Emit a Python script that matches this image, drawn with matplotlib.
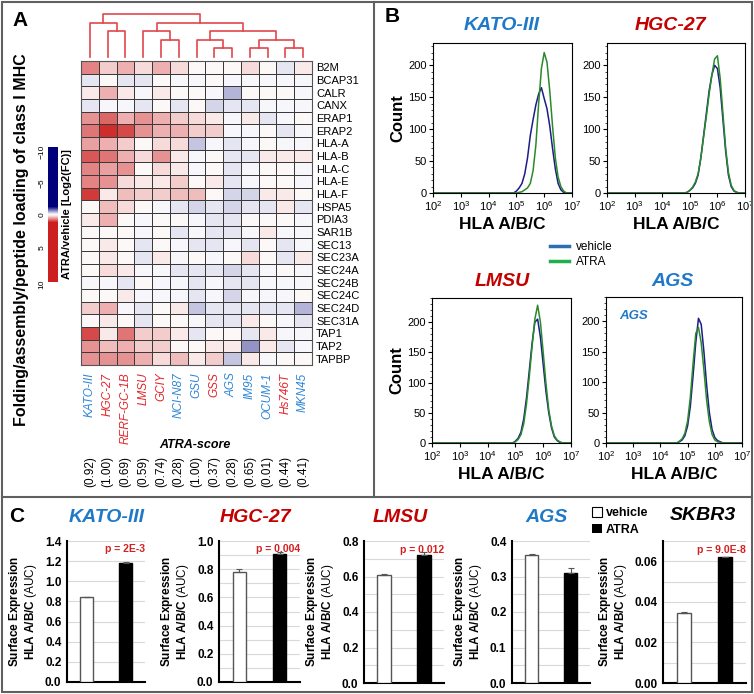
import numpy as np
import matplotlib
matplotlib.use("Agg")
import matplotlib.pyplot as plt
from matplotlib.colors import LinearSegmentedColormap, Normalize
from matplotlib.cm import ScalarMappable
from matplotlib.lines import Line2D
from matplotlib.patches import Patch, Rectangle
from matplotlib.ticker import LogLocator, MultipleLocator, NullFormatter

plt.rcParams['font.family'] = ['Liberation Sans', 'DejaVu Sans']
plt.rcParams['mathtext.fontset'] = 'custom'
plt.rcParams['mathtext.rm'] = 'Liberation Sans'
plt.rcParams['mathtext.bf'] = 'Liberation Sans:bold'
plt.rcParams['mathtext.it'] = 'Liberation Sans:italic'

# ---- panel A data ----
cell_lines = ['KATO-III', 'HGC-27', 'RERF-GC-1B', 'LMSU', 'GCIY', 'NCI-N87', 'GSU',
              'GSS', 'AGS', 'IM95', 'OCUM-1', 'Hs746T', 'MKN45']
line_group = ['b', 'r', 'r', 'r', 'r', 'b', 'b', 'r', 'b', 'b', 'b', 'r', 'b']
atra_scores = ['0.92', '1.00', '0.69', '0.59', '0.74', '0.28', '1.00', '0.37', '0.28',
               '0.65', '0.01', '0.44', '0.41']
genes = ['B2M', 'BCAP31', 'CALR', 'CANX', 'ERAP1', 'ERAP2', 'HLA-A', 'HLA-B', 'HLA-C',
         'HLA-E', 'HLA-F', 'HSPA5', 'PDIA3', 'SAR1B', 'SEC13', 'SEC23A', 'SEC24A',
         'SEC24B', 'SEC24C', 'SEC24D', 'SEC31A', 'TAP1', 'TAP2', 'TAPBP']
fc_values = [
    [0.70, 0.30, 0.45, 0.20, 0.40, 0.20, 0.05, 0.05, 0.00, 0.20, 0.05, -0.08, 0.10],
    [-0.10, 0.00, -0.10, -0.10, 0.03, -0.05, -0.05, 0.00, -0.05, -0.05, -0.05, -0.05, -0.05],
    [0.15, 0.40, 0.15, -0.05, 0.15, 0.05, 0.05, -0.05, -0.35, 0.00, 0.05, 0.05, -0.05],
    [-0.15, -0.05, -0.05, -0.10, 0.00, -0.10, 0.00, -0.20, -0.10, -0.10, -0.05, -0.05, -0.05],
    [0.60, 0.80, 0.40, 0.55, 0.40, 0.25, 0.20, 0.10, -0.05, 0.15, -0.10, -0.05, 0.00],
    [0.75, 1.10, 0.95, 0.60, 0.45, 0.40, 0.30, 0.25, -0.05, -0.05, 0.00, -0.10, -0.05],
    [0.50, 0.40, 0.25, 0.05, 0.20, 0.20, -0.30, -0.05, -0.10, -0.05, 0.00, -0.05, -0.03],
    [0.90, 0.75, 0.45, 0.20, 0.60, 0.15, -0.05, 0.05, -0.10, -0.10, 0.08, 0.15, 0.10],
    [0.70, 0.50, 0.55, 0.00, 0.20, 0.15, -0.05, 0.05, -0.10, -0.05, 0.05, 0.05, -0.05],
    [0.65, 0.55, 0.20, 0.10, 0.10, 0.30, 0.00, 0.10, -0.15, -0.05, 0.05, 0.05, -0.05],
    [1.05, 0.15, 0.35, 0.30, 0.30, 0.35, 0.35, 0.00, -0.20, -0.20, 0.10, 0.15, 0.00],
    [0.00, 0.35, 0.20, 0.00, -0.05, -0.10, -0.20, -0.15, -0.20, -0.10, -0.10, 0.15, -0.10],
    [0.15, 0.40, 0.00, -0.05, 0.05, 0.03, -0.05, -0.10, -0.15, 0.00, 0.03, 0.00, -0.05],
    [0.05, 0.05, 0.00, -0.05, 0.05, -0.15, -0.05, -0.10, -0.10, -0.05, 0.15, -0.05, -0.03],
    [0.00, 0.15, 0.00, -0.10, 0.05, -0.05, -0.10, -0.10, -0.05, -0.10, 0.00, -0.10, -0.05],
    [0.00, 0.15, 0.05, -0.10, 0.10, -0.05, 0.05, -0.05, 0.00, 0.20, 0.05, -0.10, 0.08],
    [0.00, 0.20, 0.15, -0.05, -0.05, -0.10, -0.10, -0.10, -0.20, -0.10, -0.05, 0.03, -0.05],
    [-0.05, -0.05, -0.15, 0.03, -0.03, -0.05, -0.10, -0.05, -0.10, -0.10, -0.05, -0.05, -0.05],
    [0.00, 0.05, 0.10, -0.05, -0.05, -0.05, -0.10, -0.05, -0.20, -0.05, -0.05, -0.05, 0.00],
    [0.25, 0.40, -0.05, -0.10, 0.05, 0.15, -0.25, -0.15, -0.15, -0.10, -0.15, -0.15, -0.35],
    [0.05, 0.10, 0.00, -0.10, 0.00, 0.00, -0.05, -0.10, -0.10, 0.10, 0.00, -0.05, -0.10],
    [0.95, 0.10, 0.75, 0.25, 0.30, 0.15, -0.15, 0.05, 0.00, -0.10, 0.10, -0.05, -0.05],
    [0.60, 0.35, 0.45, 0.25, 0.30, 0.00, 0.00, 0.15, 0.15, -0.50, 0.10, -0.10, -0.05],
    [0.60, 0.55, 0.55, 0.45, 0.20, 0.35, 0.10, 0.25, -0.25, 0.10, -0.05, 0.05, 0.05],
]
# dendrogram merges: (child a, child b, height); new ids start at 13
merges = [(1, 2, 3), (0, 13, 4), (4, 5, 2), (3, 15, 3), (7, 8, 1), (6, 17, 2),
          (9, 10, 1), (11, 12, 1), (19, 20, 2), (18, 21, 3), (16, 22, 4), (14, 23, 5)]

# ---- panel B data (log10 intensity grid, counts) ----
hist_log = [2.0, 4.6, 4.7, 4.8, 4.9, 5.0, 5.1, 5.2, 5.3, 5.4, 5.5, 5.6, 5.7, 5.8, 5.9,
            6.0, 6.1, 6.2, 6.3, 6.4, 6.5, 6.6, 6.7, 6.8, 7.0]
kato_veh = [0, 0, 0, 0, 0, 3, 8, 15, 30, 55, 90, 115, 138, 155, 165, 148, 132, 105, 70, 38, 15, 5, 1, 0, 0]
kato_atra = [0, 0, 0, 0, 0, 0, 1, 2, 5, 8, 15, 35, 75, 140, 195, 220, 205, 160, 105, 55, 25, 10, 3, 0, 0]
hgc_veh = [0, 0, 0, 0, 1, 4, 8, 15, 28, 55, 90, 125, 160, 185, 200, 195, 165, 115, 65, 28, 10, 3, 1, 0, 0]
hgc_atra = [0, 0, 0, 0, 1, 4, 9, 17, 30, 55, 88, 120, 155, 185, 210, 215, 180, 125, 70, 32, 12, 4, 1, 0, 0]
lmsu_veh = [0, 0, 0, 0, 0, 3, 8, 18, 40, 75, 120, 165, 200, 205, 175, 130, 85, 50, 25, 10, 4, 1, 0, 0, 0]
lmsu_atra = [0, 0, 0, 0, 0, 2, 6, 14, 32, 65, 110, 160, 205, 228, 200, 150, 98, 55, 28, 12, 5, 2, 0, 0, 0]
ags_veh = [0, 0, 2, 5, 12, 28, 60, 110, 165, 205, 195, 150, 95, 50, 22, 9, 4, 2, 0, 0, 0, 0, 0, 0, 0]
ags_atra = [0, 0, 3, 7, 16, 36, 75, 130, 180, 190, 165, 120, 70, 35, 14, 5, 2, 1, 0, 0, 0, 0, 0, 0, 0]

# ---- panel C data ----
bar_lines = ['KATO-III', 'HGC-27', 'LMSU', 'AGS', 'SKBR3']
bar_vehicle = [0.84, 0.78, 0.61, 0.36, 0.0345]
bar_atra = [1.18, 0.91, 0.72, 0.31, 0.062]
err_vehicle = [0.008, 0.02, 0.004, 0.004, 0.0003]
err_atra = [0.015, 0.015, 0.02, 0.015, 0.0003]
p_values = ['p = 2E-3', 'p = 0.004', 'p = 0.012', '', 'p = 9.0E-8']

BLUE = '#1f78c8'
RED = '#c40000'
W, H = 754, 694
fig = plt.figure(figsize=(W / 100, H / 100), dpi=100)


def add_ax(l, t, r, b):
    return fig.add_axes([l / W, 1 - b / H, (r - l) / W, (b - t) / H])


def ftext(x, y, s, **kw):
    return fig.text(x / W, 1 - y / H, s, **kw)


# ---------------- panel A ----------------
cmap = LinearSegmentedColormap.from_list(
    'rb', [(0.0, '#00007a'), (0.44, '#00007a'), (0.5, '#ffffff'), (0.56, '#cc2020'), (1.0, '#cc2020')])
norm = Normalize(-10, 10)

ax = add_ax(81, 61, 312, 365)
ax.pcolormesh(np.array(fc_values), cmap=cmap, norm=norm, edgecolors='#3a3a3a', linewidth=0.7)
ax.set_xlim(0, 13)
ax.set_ylim(24, 0)
ax.yaxis.tick_right()
ax.set_yticks(np.arange(24) + 0.5, genes, fontsize=8)
ax.set_xticks([])
ax.tick_params(length=0, pad=3)
for s in ax.spines.values():
    s.set_color('#555555')
for i, name in enumerate(cell_lines):
    c = '#2f86d6' if line_group[i] == 'b' else '#e3262b'
    ax.text(i + 0.5, 24.6, name, rotation=90, ha='center', va='top', color=c,
            style='italic', fontsize=8.5)
    ax.text(i + 0.5, 31.2, '(' + atra_scores[i] + ')', rotation=90, ha='center', va='top',
            fontsize=8.5)
ax.text(6.4, 30.3, 'ATRA-score', ha='center', va='center', fontsize=9,
        fontweight='bold', style='italic')

dax = add_ax(81, 14, 312, 57)
pos = {i: i + 0.5 for i in range(13)}
hgt = {i: 0 for i in range(13)}
for k, (a, b, h) in enumerate(merges):
    dax.plot([pos[a], pos[a], pos[b], pos[b]], [hgt[a], h, h, hgt[b]],
             color='#e0474c', lw=1.2, clip_on=False)
    pos[13 + k] = (pos[a] + pos[b]) / 2
    hgt[13 + k] = h
dax.set_xlim(0, 13)
dax.set_ylim(0, 5)
dax.axis('off')

cax = add_ax(48, 147, 58, 282)
cb = fig.colorbar(ScalarMappable(norm=norm, cmap=cmap), cax=cax)
cax.invert_yaxis()
cb.set_ticks([-10, -5, 0, 5, 10])
cax.yaxis.set_ticks_position('left')
cax.tick_params(labelsize=6, length=0, pad=2, labelrotation=90)
cb.outline.set_visible(False)
cax.yaxis.set_label_position('right')
cax.set_ylabel('ATRA/vehicle [Log2(FC)]', fontsize=8, fontweight='bold', labelpad=3)

ftext(22, 240, 'Folding/assembly/peptide loading of class I MHC', rotation=90,
      ha='center', va='center', fontsize=11.5, fontweight='bold')

# ---------------- panel B ----------------
hist_x = 10.0 ** np.array(hist_log)


def hist_panel(box, veh, atra, ytop, count, title, tcol, tx, ty):
    a = add_ax(*box)
    a.plot(hist_x, veh, color='#1c1c8a', lw=1.1)
    a.plot(hist_x, atra, color='#2a8a2a', lw=1.1)
    a.set_xscale('log')
    a.set_xlim(1e2, 1e7)
    a.set_ylim(0, ytop)
    a.set_xticks([1e2, 1e3, 1e4, 1e5, 1e6, 1e7],
                 ['$10^{%d}$' % e for e in range(2, 8)])
    a.xaxis.set_minor_locator(LogLocator(base=10, subs=np.arange(2, 10)))
    a.xaxis.set_minor_formatter(NullFormatter())
    a.set_yticks([0, 50, 100, 150, 200])
    a.yaxis.set_minor_locator(MultipleLocator(10))
    a.tick_params(labelsize=8, length=3, width=0.8, pad=1.5)
    a.tick_params(which='minor', length=1.5, width=0.5)
    a.set_xlabel('HLA A/B/C', fontsize=12.5, fontweight='bold', labelpad=3)
    if count:
        a.set_ylabel('Count', fontsize=12, fontweight='bold', labelpad=2)
    ftext(tx, ty, title, ha='center', va='center', color=tcol, fontsize=14,
          fontweight='bold', style='italic')
    return a


hist_panel((433, 43, 572, 193), kato_veh, kato_atra, 235, True, 'KATO-III', BLUE, 502, 25)
hist_panel((607, 43, 745, 193), hgc_veh, hgc_atra, 235, False, 'HGC-27', RED, 670, 25)
hist_panel((432, 298, 571, 443), lmsu_veh, lmsu_atra, 240, True, 'LMSU', RED, 502, 282)
ags_ax = hist_panel((606, 297, 742, 443), ags_veh, ags_atra, 240, False, 'AGS', BLUE, 673, 282)
ags_ax.text(0.1, 0.87, 'AGS', transform=ags_ax.transAxes, color=BLUE, fontsize=9.5,
            fontweight='bold', style='italic', va='center')

fig.legend([Line2D([], [], color='#2e6db4', lw=2.5), Line2D([], [], color='#1fb04a', lw=2.5)],
           ['vehicle', 'ATRA'], loc='upper left', bbox_to_anchor=(545 / W, 1 - 236 / H),
           frameon=False, fontsize=8.5, handlelength=1.6, labelspacing=0.3,
           borderaxespad=0, handletextpad=0.6)

# ---------------- panel C ----------------
bar_boxes = [(67, 541, 145, 682), (219, 541, 300, 682), (364, 541, 444, 683),
             (512, 541, 590, 683), (663, 541, 746, 683)]
ylims = [1.4, 1.0, 0.8, 0.4, 0.07]
majors = [0.2, 0.2, 0.2, 0.1, 0.02]
minors = [0.2, 0.1, 0.1, 0.05, 0.01]
fmts = ['%.1f', '%.1f', '%.1f', '%.1f', '%.2f']
title_pos = [(107, 517), (255, 517), (400, 517), (547, 517), (703, 515)]
title_cols = [BLUE, RED, RED, BLUE, 'black']

for i in range(5):
    a = add_ax(*bar_boxes[i])
    a.bar([0, 1], [bar_vehicle[i], bar_atra[i]], width=0.33, color=['white', 'black'],
          edgecolor=['#555555', 'black'], linewidth=1,
          yerr=[[0, 0], [err_vehicle[i], err_atra[i]]],
          error_kw=dict(ecolor='#555555', elinewidth=0.8, capsize=2, capthick=0.8), zorder=3)
    a.set_xlim(-0.5, 1.5)
    a.set_ylim(0, ylims[i])
    ticks = np.arange(0, ylims[i] + 1e-9, majors[i])
    a.set_yticks(ticks, [fmts[i] % t for t in ticks])
    a.yaxis.set_minor_locator(MultipleLocator(minors[i]))
    a.grid(axis='y', which='both', color='#d9d9d9', lw=0.8)
    a.set_axisbelow(True)
    a.set_xticks([])
    a.tick_params(which='both', length=0, labelsize=8.5, pad=4)
    for lab in a.get_yticklabels():
        lab.set_fontweight('bold')
    for s in ['top', 'right']:
        a.spines[s].set_visible(False)
    for s in ['left', 'bottom']:
        a.spines[s].set_linewidth(1.5)
    a.set_ylabel('$\\mathbf{Surface\\ Expression}$\n$\\mathbf{HLA\\ A/B/C}$ (AUC)',
                 fontsize=8.5, labelpad=4, linespacing=1.0)
    if p_values[i]:
        a.text(1.0, 0.94, p_values[i], transform=a.transAxes, ha='right', va='center',
               color='#d42020', fontsize=7.5, fontweight='bold')
    ftext(title_pos[i][0], title_pos[i][1], bar_lines[i], ha='center', va='center',
          color=title_cols[i], fontsize=14, fontweight='bold', style='italic')

fig.legend([Patch(facecolor='white', edgecolor='black', lw=0.8), Patch(facecolor='black')],
           ['vehicle', 'ATRA'], loc='upper left', bbox_to_anchor=(587 / W, 1 - 502 / H),
           frameon=False, prop={'size': 9, 'weight': 'bold'}, handlelength=0.8,
           handleheight=0.8, labelspacing=0.35, borderaxespad=0, handletextpad=0.3)

# panel letters and frames
ftext(20, 20, 'A', ha='center', va='center', fontsize=15, fontweight='bold')
ftext(392, 17, 'B', ha='center', va='center', fontsize=15, fontweight='bold')
ftext(17, 516, 'C', ha='center', va='center', fontsize=15, fontweight='bold')

fig.add_artist(Rectangle((2 / W, 2 / H), 750 / W, 690 / H, transform=fig.transFigure,
                         fill=False, edgecolor='#606060', lw=1.5))
fig.add_artist(Line2D([374 / W, 374 / W], [1 - 2 / H, 1 - 497 / H], transform=fig.transFigure,
                      color='#606060', lw=1.5))
fig.add_artist(Line2D([2 / W, 752 / W], [1 - 497 / H, 1 - 497 / H], transform=fig.transFigure,
                      color='#606060', lw=1.5))

fig.savefig('out.png', dpi=100)
